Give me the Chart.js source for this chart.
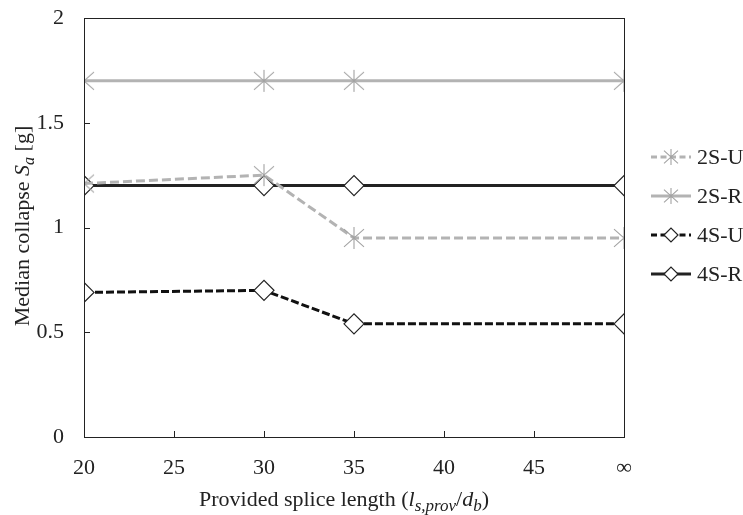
<!DOCTYPE html>
<html><head><meta charset="utf-8">
<script src="https://cdn.jsdelivr.net/npm/chart.js@4/dist/chart.umd.min.js"></script>
<style>html,body{margin:0;padding:0;background:#fff}#wrap{width:743px;height:515px;position:relative}</style>
</head><body><div id="wrap"><canvas id="c" width="743" height="515"></canvas></div>
<script>
const spliceLengths = [20, 30, 35, 50];
const xTickLabels = {20:'20',25:'25',30:'30',35:'35',40:'40',45:'45',50:'∞'};
const yTickValues = [0, 0.5, 1, 1.5, 2];
const seriesNames = ['2S-U', '2S-R', '4S-U', '4S-R'];
const s2U = [1.21, 1.25, 0.95, 0.95];
const s2R = [1.70, 1.70, 1.70, 1.70];
const s4U = [0.69, 0.70, 0.54, 0.54];
const s4R = [1.20, 1.20, 1.20, 1.20];

const FONT = '"Liberation Serif", "Times New Roman", serif';

function asterisk(color, rx, ry){
  const c = document.createElement('canvas');
  const s = Math.ceil(Math.max(rx,ry)*2+4); c.width = s; c.height = s;
  const g = c.getContext('2d'); const m = s/2;
  g.strokeStyle = color; g.lineWidth = 1.1;
  g.beginPath();
  g.moveTo(m, m-ry); g.lineTo(m, m+ry);
  g.moveTo(m-rx, m-ry*0.8); g.lineTo(m+rx, m+ry*0.8);
  g.moveTo(m-rx, m+ry*0.8); g.lineTo(m+rx, m-ry*0.8);
  g.stroke();
  return c;
}
const starImg = asterisk('#a3a3a3', 10, 11);

function pts(vals){ return spliceLengths.map((x,i)=>({x, y: vals[i]})); }

const datasets = [
  {label: seriesNames[0], data: pts(s2U), borderColor:'#b3b3b3', borderWidth:3, borderDash:[9,4], pointStyle: starImg, pointRadius:10},
  {label: seriesNames[1], data: pts(s2R), borderColor:'#b3b3b3', borderWidth:3, pointStyle: starImg, pointRadius:10},
  {label: seriesNames[2], data: pts(s4U), borderColor:'#111', borderWidth:3, borderDash:[8,3], pointStyle:'rectRot', pointRadius:10, pointBorderColor:'#222', pointBorderWidth:1.2, pointBackgroundColor:'#fff'},
  {label: seriesNames[3], data: pts(s4R), borderColor:'#222', borderWidth:3, pointStyle:'rectRot', pointRadius:10, pointBorderColor:'#222', pointBorderWidth:1.2, pointBackgroundColor:'#fff'}
];
datasets.forEach(d=>{ d.tension=0; d.fill=false; d.pointHoverRadius=d.pointRadius; if(!d.pointBackgroundColor) d.pointBackgroundColor='rgba(0,0,0,0)'; if(!d.pointBorderColor) d.pointBorderColor='#a3a3a3'; });

const deco = {
  id:'deco',
  afterDraw(chart){
    const {ctx, chartArea:a, scales:{x,y}} = chart;
    ctx.save();
    ctx.strokeStyle='#222'; ctx.lineWidth=1;
    ctx.strokeRect(Math.round(a.left)+0.5, Math.round(a.top)+0.5, Math.round(a.right-a.left), Math.round(a.bottom-a.top));
    ctx.beginPath();
    [25,30,35,40,45].forEach(v=>{ const px=Math.round(x.getPixelForValue(v))+0.5; ctx.moveTo(px,a.bottom); ctx.lineTo(px,a.bottom-6); });
    [0.5,1,1.5].forEach(v=>{ const py=Math.round(y.getPixelForValue(v))+0.5; ctx.moveTo(a.left,py); ctx.lineTo(a.left+6,py); });
    ctx.stroke();

    ctx.fillStyle='#222'; ctx.textBaseline='alphabetic';
    // x title
    const parts = [
      ['Provided splice length (', 'normal', 22, 0],
      ['l', 'italic', 22, 0],
      ['s,prov', 'italic', 17, 5],
      ['/', 'normal', 22, 0],
      ['d', 'italic', 22, 0],
      ['b', 'italic', 17, 5],
      [')', 'normal', 22, 0]
    ];
    let w=0; parts.forEach(p=>{ ctx.font=`${p[1]} ${p[2]}px ${FONT}`; w+=ctx.measureText(p[0]).width; });
    let cx=344 - w/2; const by=506;
    parts.forEach(p=>{ ctx.font=`${p[1]} ${p[2]}px ${FONT}`; ctx.fillText(p[0], cx, by+p[3]); cx+=ctx.measureText(p[0]).width; });
    // y title
    const yp = [
      ['Median collapse ', 'normal', 22, 0],
      ['S', 'italic', 22, 0],
      ['a', 'italic', 16, 5],
      [' [g]', 'normal', 22, 0]
    ];
    w=0; yp.forEach(p=>{ ctx.font=`${p[1]} ${p[2]}px ${FONT}`; w+=ctx.measureText(p[0]).width; });
    ctx.save(); ctx.translate(29, 226); ctx.rotate(-Math.PI/2);
    cx=-w/2;
    yp.forEach(p=>{ ctx.font=`${p[1]} ${p[2]}px ${FONT}`; ctx.fillText(p[0], cx, p[3]); cx+=ctx.measureText(p[0]).width; });
    ctx.restore();

    // legend
    const lx0=651, lx1=691, ly0=157, gap=39;
    const legStar = asterisk('#a3a3a3', 7, 8);
    chart.data.datasets.forEach((d,i)=>{
      const ly=ly0+i*gap;
      ctx.save();
      ctx.strokeStyle=d.borderColor; ctx.lineWidth=d.borderWidth;
      ctx.setLineDash(d.borderDash? [6,3.5] : []);
      ctx.beginPath(); ctx.moveTo(lx0,ly); ctx.lineTo(lx1,ly); ctx.stroke();
      ctx.setLineDash([]);
      const mx=(lx0+lx1)/2;
      if (d.pointStyle==='rectRot'){
        const r=7;
        ctx.fillStyle='#fff'; ctx.strokeStyle='#222'; ctx.lineWidth=1.2;
        ctx.beginPath(); ctx.moveTo(mx-r,ly); ctx.lineTo(mx,ly-r); ctx.lineTo(mx+r,ly); ctx.lineTo(mx,ly+r); ctx.closePath(); ctx.fill(); ctx.stroke();
      } else {
        ctx.drawImage(legStar, mx-legStar.width/2, ly-legStar.height/2);
      }
      ctx.fillStyle='#222'; ctx.font=`22px ${FONT}`; ctx.textBaseline='middle';
      ctx.fillText(d.label, 697, ly+1);
      ctx.restore();
    });
    ctx.restore();
  }
};

new Chart(document.getElementById('c'), {
  type:'line',
  data:{datasets},
  options:{
    responsive:false, animation:false, devicePixelRatio:1,
    layout:{padding:{top:18, right:119, left:0, bottom:0}},
    plugins:{legend:{display:false}, tooltip:{enabled:false}},
    scales:{
      x:{type:'linear', min:20, max:50,
        afterBuildTicks(s){ s.ticks = Object.keys(xTickLabels).map(v=>({value:+v})); },
        afterFit(s){ s.height = 78; s.paddingLeft = 0; s.paddingRight = 0; },
        grid:{display:false, drawTicks:false}, border:{display:false},
        ticks:{padding:18, color:'#222', font:{family:FONT, size:22}, maxRotation:0, autoSkip:false, callback:(v)=>xTickLabels[v]}
      },
      y:{type:'linear', min:0, max:2,
        afterBuildTicks(s){ s.ticks = yTickValues.map(v=>({value:v})); },
        afterFit(s){ s.width = 84; s.paddingTop = 0; s.paddingBottom = 0; },
        grid:{display:false, drawTicks:false}, border:{display:false},
        ticks:{padding:20, color:'#222', font:{family:FONT, size:22}, callback:(v)=>String(v)}
      }
    }
  },
  plugins:[deco]
});
</script></body></html>
